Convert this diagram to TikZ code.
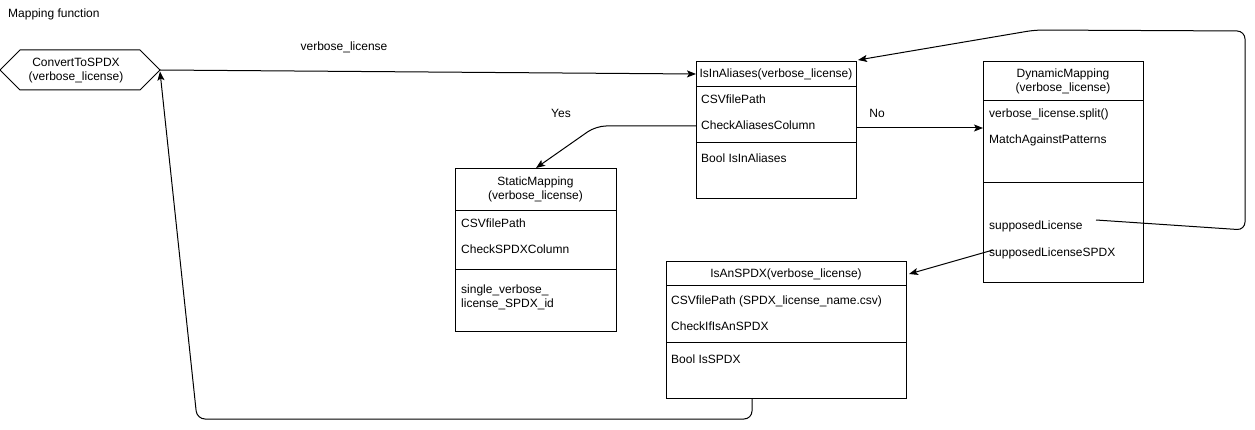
\documentclass[tikz,border=0pt]{standalone}
\usepackage{fontspec}
\setmainfont{Liberation Sans}
\usetikzlibrary{arrows.meta,calc}
\begin{document}
\begin{tikzpicture}[x=1pt,y=-1pt,
  every node/.style={font=\fontsize{12}{14.5}\selectfont},
  classbox/.style={draw,line width=1pt,anchor=north west,inner sep=0pt},
  member/.style={anchor=base west,inner sep=0pt},
  header/.style={align=center,inner sep=0pt},
  lbl/.style={inner sep=0pt},
  conn/.style={draw,line width=1pt,-{Stealth[length=9pt,width=7pt,inset=2pt]}},
  line/.style={draw,line width=1pt}]
\useasboundingbox[fill=white] (0,0) rectangle (1255,430);

% title
\node[anchor=west,lbl] (title) at (8,14) {Mapping function};

% entry point: hexagon
\coordinate (hexL) at (0,70);
\coordinate (hexR) at (160,70);
\draw[line] (hexL) -- (20,50) -- (140,50) -- (hexR) -- (140,90) -- (20,90) -- cycle;
\node[header] (convert) at (76,70.5) {ConvertToSPDX\\(verbose\_license)};

% IsInAliases
\node[classbox,minimum width=160pt,minimum height=137pt] (alias) at (696,61) {};
\draw[line] (696,87) -- (856,87);
\draw[line] (696,143) -- (856,143);
\node[anchor=base,inner sep=0pt] (aliasHd) at (776,78) {IsInAliases(verbose\_license)};
\node[member] (aliasA) at (701,104) {CSVfilePath};
\node[member] (aliasB) at (701,130) {CheckAliasesColumn};
\node[member] (aliasC) at (701,163) {Bool IsInAliases};

% DynamicMapping
\node[classbox,minimum width=160pt,minimum height=221pt] (dyn) at (983,61) {};
\draw[line] (983,101) -- (1143,101);
\draw[line] (983,183) -- (1143,183);
\node[header] (dynHd) at (1063,81.5) {DynamicMapping\\(verbose\_license)};
\node[member] (dynA) at (989,118) {verbose\_license.split()};
\node[member] (dynB) at (989,144) {MatchAgainstPatterns};
\node[member] (dynC) at (989,230) {supposedLicense};
\node[member] (dynD) at (989,257) {supposedLicenseSPDX};

% StaticMapping
\node[classbox,minimum width=161pt,minimum height=163pt] (stat) at (455,168) {};
\draw[line] (455,211) -- (616,211);
\draw[line] (455,270) -- (616,270);
\node[header] (statHd) at (535.5,189.5) {StaticMapping\\(verbose\_license)};
\node[member] (statA) at (461,228) {CSVfilePath};
\node[member] (statB) at (461,254) {CheckSPDXColumn};
\node[member,align=left,anchor=north west] (statC) at (461,284.5) {single\_verbose\_\\license\_SPDX\_id};

% IsAnSPDX
\node[classbox,minimum width=240pt,minimum height=137pt] (spdx) at (666,261) {};
\draw[line] (666,286) -- (906,286);
\draw[line] (666,342) -- (906,342);
\node[anchor=base,inner sep=0pt] (spdxHd) at (786,278) {IsAnSPDX(verbose\_license)};
\node[member] (spdxA) at (671,304) {CSVfilePath (SPDX\_license\_name.csv)};
\node[member] (spdxB) at (671,330) {CheckIfIsAnSPDX};
\node[member] (spdxC) at (671,363) {Bool IsSPDX};

% connector labels
\node[lbl] (lblVerbose) at (344,47) {verbose\_license};
\node[lbl] (lblYes) at (561,113) {Yes};
\node[lbl] (lblNo) at (877,113) {No};

% connector end points
\coordinate (aliasIn) at (alias.west |- 0,74);
\coordinate (aliasYes) at (alias.west |- 0,126);
\coordinate (aliasNo) at (alias.east |- 0,128);
\coordinate (dynIn) at (dyn.west |- 0,128);
\coordinate (loopStart) at (1096,220);
\coordinate (spdxStart) at (993,250);
\coordinate (spdxIn) at (909,274);
\coordinate (spdxOut) at (752,398);

% connectors
\path[conn] (hexR) -- (aliasIn);
\path[conn,rounded corners=10pt] (aliasYes) -- (596,126) -- (stat.north);
\path[conn] (aliasNo) -- (dynIn);
\path[conn,rounded corners=8pt] (loopStart) -- (1245,230) -- (1245,31) -- (1035,30) -- ($(alias.north east)+(1,-1)$);
\path[conn] (spdxStart) -- (spdxIn);
\path[conn,rounded corners=8pt] (spdxOut) -- (752,419) -- (197,419) -- ($(hexR)+(0,1.5)$);
\end{tikzpicture}
\end{document}
